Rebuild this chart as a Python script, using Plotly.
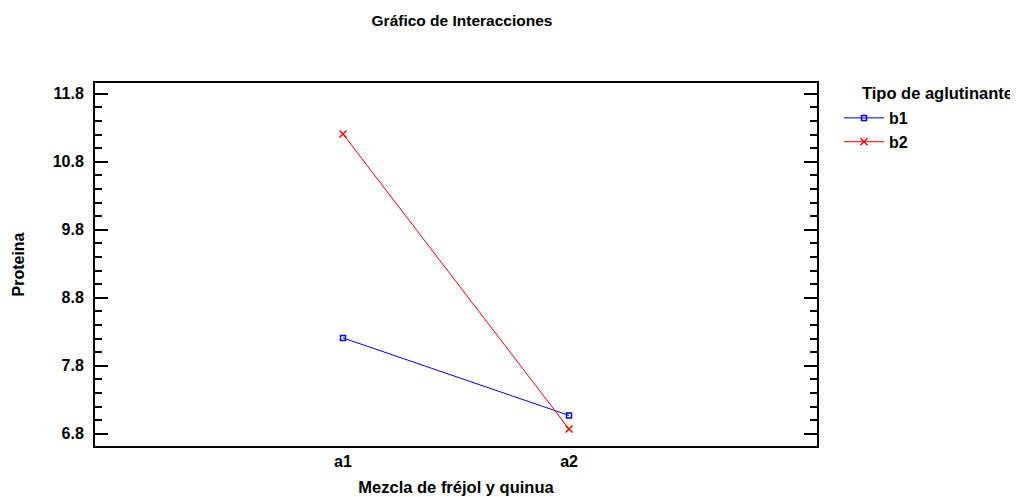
import plotly.graph_objects as go

categories = ["a1", "a2"]
b1_values = [8.21, 7.07]
b2_values = [11.21, 6.87]
series_names = ["b1", "b2"]
y_ticks = [6.8, 7.8, 8.8, 9.8, 10.8, 11.8]

FONT = "Liberation Sans, Arial, sans-serif"

# page body adds an 8px offset; figure sized/placed to compensate
W, H = 1010, 489
ML, MT = 87, 75
PW, PH = 722, 363
MR = W - ML - PW
MB = H - MT - PH

fig = go.Figure()
fig.add_trace(go.Scatter(
    x=categories, y=b1_values, name=series_names[0], mode="lines+markers",
    line=dict(color="#0000ff", width=1),
    marker=dict(symbol="square-open", size=5, color="#0000ff", line=dict(width=1.5)),
))
fig.add_trace(go.Scatter(
    x=categories, y=b2_values, name=series_names[1], mode="lines+markers",
    line=dict(color="#ff0000", width=1),
    marker=dict(symbol="x-thin-open", size=7, color="#ff0000", line=dict(width=1.5, color="#ff0000")),
))

fig.update_layout(
    width=W, height=H,
    margin=dict(l=ML, r=MR, t=MT, b=MB, autoexpand=False),
    paper_bgcolor="white", plot_bgcolor="white",
    font=dict(family=FONT, size=14, color="black"),
    title=dict(text="<b>Gráfico de Interacciones</b>", x=(462 - 8) / W, xanchor="center",
               y=1 - (21 - 8) / H, yanchor="middle", font=dict(size=15.5, family=FONT)),
    showlegend=True,
    legend=dict(x=(836 - 5 - ML) / PW, xanchor="left", y=1 - 18 / PH, yanchor="top",
                font=dict(size=16, family=FONT, weight="bold"),
                tracegroupgap=0, itemwidth=40, bgcolor="rgba(0,0,0,0)"),
    annotations=[dict(text="<b>Tipo de aglutinante</b>", xref="paper", yref="paper",
                      x=(860 - 95) / PW, xanchor="left", y=1 + (83 - 93) / PH, yanchor="middle",
                      showarrow=False, font=dict(size=16.5, family=FONT))],
)

fig.update_xaxes(
    type="category", range=[-1.097, 2.097], automargin=False,
    showline=True, linecolor="black", linewidth=2, mirror=True,
    ticks="", showgrid=False, zeroline=False,
    tickfont=dict(size=16, family=FONT, weight="bold"),
    title=dict(text="<b>Mezcla de fréjol y quinua</b>", font=dict(size=16.5, family=FONT), standoff=12),
)
fig.update_yaxes(
    range=[6.62, 11.96], tickvals=y_ticks, tickformat=".1f", automargin=False,
    showline=True, linecolor="black", linewidth=2, mirror="ticks",
    ticks="inside", ticklen=13, tickwidth=2, tickcolor="black",
    minor=dict(dtick=0.2, tick0=6.8, ticks="inside", ticklen=7, tickwidth=2, tickcolor="black"),
    showgrid=False, zeroline=False, ticklabelstandoff=6,
    tickfont=dict(size=16, family=FONT, weight="bold"),
    title=dict(text="<b>Proteina</b>", font=dict(size=16, family=FONT), standoff=24),
)

fig.write_html("out.html")
